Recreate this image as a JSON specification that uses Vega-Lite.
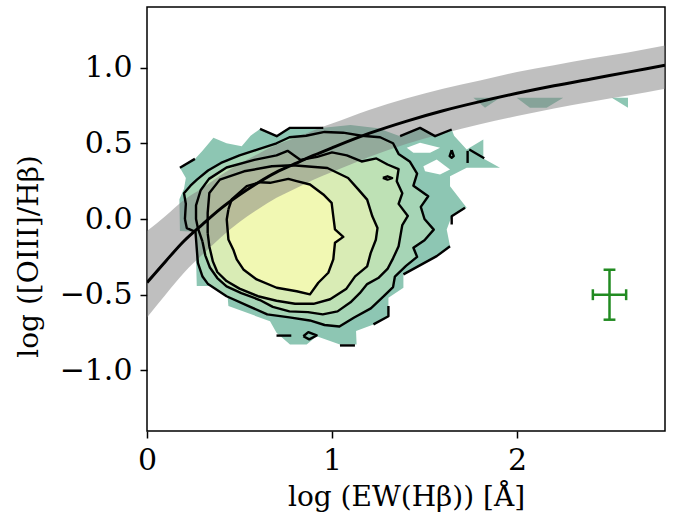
{
  "$schema": "https://vega.github.io/schema/vega-lite/v6.json",
  "width": 518,
  "height": 424,
  "autosize": {"type": "none"},
  "padding": {"left": 147, "top": 7, "right": 21, "bottom": 89},
  "background": "white",
  "config": {
    "view": {"stroke": "black", "strokeWidth": 1.5},
    "axis": {"grid": false, "domain": false, "tickColor": "black", "tickWidth": 1.5, "tickSize": 7, "labelColor": "black", "labelFont": "DejaVu Serif", "labelFontSize": 30, "titleColor": "black", "titleFontWeight": "normal", "labelFlush": false, "labelOverlap": false}
  },
  "datasets": {
    "poly": [
      {"g":"T","i":0,"x":0.178,"y":-0.08},{"g":"T","i":1,"x":0.175,"y":0.13},{"g":"T","i":2,"x":0.2,"y":0.2},{"g":"T","i":3,"x":0.21,"y":0.27},{"g":"T","i":4,"x":0.178,"y":0.338},{"g":"T","i":5,"x":0.215,"y":0.37},{"g":"T","i":6,"x":0.259,"y":0.397},{"g":"T","i":7,"x":0.3,"y":0.45},{"g":"T","i":8,"x":0.359,"y":0.536},{"g":"T","i":9,"x":0.43,"y":0.5},{"g":"T","i":10,"x":0.512,"y":0.48},{"g":"T","i":11,"x":0.56,"y":0.55},{"g":"T","i":12,"x":0.611,"y":0.595},{"g":"T","i":13,"x":0.701,"y":0.547},{"g":"T","i":14,"x":0.773,"y":0.602},{"g":"T","i":15,"x":0.953,"y":0.602},{"g":"T","i":16,"x":1.1,"y":0.62},{"g":"T","i":17,"x":1.25,"y":0.6},{"g":"T","i":18,"x":1.368,"y":0.547},{"g":"T","i":19,"x":1.476,"y":0.602},{"g":"T","i":20,"x":1.557,"y":0.547},{"g":"T","i":21,"x":1.647,"y":0.591},{"g":"T","i":22,"x":1.66,"y":0.55},{"g":"T","i":23,"x":1.728,"y":0.459},{"g":"T","i":24,"x":1.818,"y":0.525},{"g":"T","i":25,"x":1.818,"y":0.4},{"g":"T","i":26,"x":1.908,"y":0.338},{"g":"T","i":27,"x":1.728,"y":0.338},{"g":"T","i":28,"x":1.638,"y":0.283},{"g":"T","i":29,"x":1.638,"y":0.217},{"g":"T","i":30,"x":1.728,"y":0.074},{"g":"T","i":31,"x":1.647,"y":0.018},{"g":"T","i":32,"x":1.62,"y":-0.07},{"g":"T","i":33,"x":1.638,"y":-0.18},{"g":"T","i":34,"x":1.566,"y":-0.245},{"g":"T","i":35,"x":1.386,"y":-0.366},{"g":"T","i":36,"x":1.386,"y":-0.454},{"g":"T","i":37,"x":1.305,"y":-0.52},{"g":"T","i":38,"x":1.305,"y":-0.642},{"g":"T","i":39,"x":1.224,"y":-0.696},{"g":"T","i":40,"x":1.13,"y":-0.74},{"g":"T","i":41,"x":1.133,"y":-0.828},{"g":"T","i":42,"x":1.043,"y":-0.828},{"g":"T","i":43,"x":0.917,"y":-0.774},{"g":"T","i":44,"x":0.863,"y":-0.828},{"g":"T","i":45,"x":0.773,"y":-0.828},{"g":"T","i":46,"x":0.7,"y":-0.751},{"g":"T","i":47,"x":0.665,"y":-0.675},{"g":"T","i":48,"x":0.44,"y":-0.575},{"g":"T","i":49,"x":0.431,"y":-0.443},{"g":"T","i":50,"x":0.269,"y":-0.443},{"g":"T","i":51,"x":0.265,"y":-0.25},{"g":"T","i":52,"x":0.26,"y":-0.085},{"g":"T","i":53,"x":0.178,"y":-0.08},
      {"g":"T1","i":0,"x":1.764,"y":0.8},{"g":"T1","i":1,"x":1.908,"y":0.8},{"g":"T1","i":2,"x":1.827,"y":0.734},{"g":"T1","i":3,"x":1.764,"y":0.8},
      {"g":"T2","i":0,"x":1.998,"y":0.8},{"g":"T2","i":1,"x":2.25,"y":0.8},{"g":"T2","i":2,"x":2.16,"y":0.734},{"g":"T2","i":3,"x":2.07,"y":0.734},{"g":"T2","i":4,"x":1.998,"y":0.8},
      {"g":"T3","i":0,"x":2.512,"y":0.8},{"g":"T3","i":1,"x":2.6,"y":0.8},{"g":"T3","i":2,"x":2.6,"y":0.734},{"g":"T3","i":3,"x":2.512,"y":0.8},
      {"g":"H1","i":0,"x":1.404,"y":0.47},{"g":"H1","i":1,"x":1.476,"y":0.503},{"g":"H1","i":2,"x":1.584,"y":0.47},{"g":"H1","i":3,"x":1.53,"y":0.437},{"g":"H1","i":4,"x":1.44,"y":0.437},{"g":"H1","i":5,"x":1.404,"y":0.47},
      {"g":"H2","i":0,"x":1.494,"y":0.349},{"g":"H2","i":1,"x":1.566,"y":0.393},{"g":"H2","i":2,"x":1.638,"y":0.327},{"g":"H2","i":3,"x":1.584,"y":0.294},{"g":"H2","i":4,"x":1.503,"y":0.316},{"g":"H2","i":5,"x":1.494,"y":0.349},
      {"g":"L1","i":0,"x":0.205,"y":0.0},{"g":"L1","i":1,"x":0.21,"y":0.1},{"g":"L1","i":2,"x":0.2,"y":0.17},{"g":"L1","i":3,"x":0.235,"y":0.22},{"g":"L1","i":4,"x":0.27,"y":0.26},{"g":"L1","i":5,"x":0.33,"y":0.32},{"g":"L1","i":6,"x":0.4,"y":0.37},{"g":"L1","i":7,"x":0.5,"y":0.42},{"g":"L1","i":8,"x":0.6,"y":0.46},{"g":"L1","i":9,"x":0.7,"y":0.5},{"g":"L1","i":10,"x":0.77,"y":0.54},{"g":"L1","i":11,"x":0.86,"y":0.55},{"g":"L1","i":12,"x":0.96,"y":0.575},{"g":"L1","i":13,"x":1.06,"y":0.57},{"g":"L1","i":14,"x":1.16,"y":0.55},{"g":"L1","i":15,"x":1.26,"y":0.54},{"g":"L1","i":16,"x":1.33,"y":0.5},{"g":"L1","i":17,"x":1.36,"y":0.43},{"g":"L1","i":18,"x":1.42,"y":0.38},{"g":"L1","i":19,"x":1.46,"y":0.3},{"g":"L1","i":20,"x":1.44,"y":0.22},{"g":"L1","i":21,"x":1.52,"y":0.15},{"g":"L1","i":22,"x":1.48,"y":0.08},{"g":"L1","i":23,"x":1.5,"y":0.0},{"g":"L1","i":24,"x":1.55,"y":-0.07},{"g":"L1","i":25,"x":1.5,"y":-0.14},{"g":"L1","i":26,"x":1.44,"y":-0.19},{"g":"L1","i":27,"x":1.46,"y":-0.25},{"g":"L1","i":28,"x":1.4,"y":-0.31},{"g":"L1","i":29,"x":1.34,"y":-0.38},{"g":"L1","i":30,"x":1.33,"y":-0.45},{"g":"L1","i":31,"x":1.28,"y":-0.51},{"g":"L1","i":32,"x":1.21,"y":-0.59},{"g":"L1","i":33,"x":1.12,"y":-0.65},{"g":"L1","i":34,"x":1.04,"y":-0.71},{"g":"L1","i":35,"x":0.96,"y":-0.7},{"g":"L1","i":36,"x":0.88,"y":-0.67},{"g":"L1","i":37,"x":0.77,"y":-0.65},{"g":"L1","i":38,"x":0.65,"y":-0.63},{"g":"L1","i":39,"x":0.54,"y":-0.57},{"g":"L1","i":40,"x":0.43,"y":-0.51},{"g":"L1","i":41,"x":0.33,"y":-0.43},{"g":"L1","i":42,"x":0.3,"y":-0.38},{"g":"L1","i":43,"x":0.275,"y":-0.29},{"g":"L1","i":44,"x":0.268,"y":-0.18},{"g":"L1","i":45,"x":0.262,"y":-0.085},{"g":"L1","i":46,"x":0.215,"y":-0.06},{"g":"L1","i":47,"x":0.205,"y":0.0},
      {"g":"L2","i":0,"x":0.3,"y":-0.15},{"g":"L2","i":1,"x":0.275,"y":-0.06},{"g":"L2","i":2,"x":0.265,"y":0.0},{"g":"L2","i":3,"x":0.265,"y":0.09},{"g":"L2","i":4,"x":0.29,"y":0.19},{"g":"L2","i":5,"x":0.335,"y":0.265},{"g":"L2","i":6,"x":0.43,"y":0.34},{"g":"L2","i":7,"x":0.58,"y":0.39},{"g":"L2","i":8,"x":0.7,"y":0.42},{"g":"L2","i":9,"x":0.76,"y":0.45},{"g":"L2","i":10,"x":0.83,"y":0.39},{"g":"L2","i":11,"x":0.92,"y":0.41},{"g":"L2","i":12,"x":1.0,"y":0.44},{"g":"L2","i":13,"x":1.08,"y":0.42},{"g":"L2","i":14,"x":1.16,"y":0.38},{"g":"L2","i":15,"x":1.24,"y":0.4},{"g":"L2","i":16,"x":1.3,"y":0.36},{"g":"L2","i":17,"x":1.36,"y":0.33},{"g":"L2","i":18,"x":1.35,"y":0.25},{"g":"L2","i":19,"x":1.38,"y":0.17},{"g":"L2","i":20,"x":1.36,"y":0.1},{"g":"L2","i":21,"x":1.41,"y":0.02},{"g":"L2","i":22,"x":1.38,"y":-0.04},{"g":"L2","i":23,"x":1.37,"y":-0.11},{"g":"L2","i":24,"x":1.36,"y":-0.18},{"g":"L2","i":25,"x":1.33,"y":-0.26},{"g":"L2","i":26,"x":1.3,"y":-0.33},{"g":"L2","i":27,"x":1.25,"y":-0.39},{"g":"L2","i":28,"x":1.19,"y":-0.43},{"g":"L2","i":29,"x":1.15,"y":-0.49},{"g":"L2","i":30,"x":1.1,"y":-0.55},{"g":"L2","i":31,"x":1.03,"y":-0.61},{"g":"L2","i":32,"x":0.95,"y":-0.63},{"g":"L2","i":33,"x":0.87,"y":-0.615},{"g":"L2","i":34,"x":0.77,"y":-0.61},{"g":"L2","i":35,"x":0.68,"y":-0.58},{"g":"L2","i":36,"x":0.61,"y":-0.535},{"g":"L2","i":37,"x":0.51,"y":-0.49},{"g":"L2","i":38,"x":0.43,"y":-0.445},{"g":"L2","i":39,"x":0.38,"y":-0.39},{"g":"L2","i":40,"x":0.34,"y":-0.32},{"g":"L2","i":41,"x":0.315,"y":-0.24},{"g":"L2","i":42,"x":0.3,"y":-0.15},
      {"g":"L3","i":0,"x":0.328,"y":-0.093},{"g":"L3","i":1,"x":0.328,"y":0.04},{"g":"L3","i":2,"x":0.337,"y":0.172},{"g":"L3","i":3,"x":0.394,"y":0.26},{"g":"L3","i":4,"x":0.525,"y":0.315},{"g":"L3","i":5,"x":0.675,"y":0.348},{"g":"L3","i":6,"x":0.787,"y":0.355},{"g":"L3","i":7,"x":0.975,"y":0.337},{"g":"L3","i":8,"x":1.087,"y":0.271},{"g":"L3","i":9,"x":1.143,"y":0.194},{"g":"L3","i":10,"x":1.19,"y":0.128},{"g":"L3","i":11,"x":1.218,"y":0.018},{"g":"L3","i":12,"x":1.246,"y":-0.059},{"g":"L3","i":13,"x":1.237,"y":-0.137},{"g":"L3","i":14,"x":1.209,"y":-0.225},{"g":"L3","i":15,"x":1.19,"y":-0.313},{"g":"L3","i":16,"x":1.125,"y":-0.379},{"g":"L3","i":17,"x":1.078,"y":-0.46},{"g":"L3","i":18,"x":0.99,"y":-0.53},{"g":"L3","i":19,"x":0.9,"y":-0.56},{"g":"L3","i":20,"x":0.8,"y":-0.56},{"g":"L3","i":21,"x":0.7,"y":-0.54},{"g":"L3","i":22,"x":0.6,"y":-0.51},{"g":"L3","i":23,"x":0.5,"y":-0.46},{"g":"L3","i":24,"x":0.43,"y":-0.41},{"g":"L3","i":25,"x":0.38,"y":-0.35},{"g":"L3","i":26,"x":0.356,"y":-0.28},{"g":"L3","i":27,"x":0.337,"y":-0.181},{"g":"L3","i":28,"x":0.328,"y":-0.093},
      {"g":"L4","i":0,"x":0.44,"y":0.063},{"g":"L4","i":1,"x":0.458,"y":0.129},{"g":"L4","i":2,"x":0.539,"y":0.217},{"g":"L4","i":3,"x":0.611,"y":0.243},{"g":"L4","i":4,"x":0.665,"y":0.239},{"g":"L4","i":5,"x":0.764,"y":0.265},{"g":"L4","i":6,"x":0.809,"y":0.25},{"g":"L4","i":7,"x":0.881,"y":0.228},{"g":"L4","i":8,"x":0.953,"y":0.162},{"g":"L4","i":9,"x":0.998,"y":0.107},{"g":"L4","i":10,"x":1.007,"y":0.018},{"g":"L4","i":11,"x":1.016,"y":-0.069},{"g":"L4","i":12,"x":1.061,"y":-0.118},{"g":"L4","i":13,"x":1.016,"y":-0.157},{"g":"L4","i":14,"x":1.007,"y":-0.267},{"g":"L4","i":15,"x":0.98,"y":-0.355},{"g":"L4","i":16,"x":0.926,"y":-0.421},{"g":"L4","i":17,"x":0.881,"y":-0.498},{"g":"L4","i":18,"x":0.809,"y":-0.477},{"g":"L4","i":19,"x":0.701,"y":-0.454},{"g":"L4","i":20,"x":0.593,"y":-0.399},{"g":"L4","i":21,"x":0.521,"y":-0.333},{"g":"L4","i":22,"x":0.485,"y":-0.267},{"g":"L4","i":23,"x":0.466,"y":-0.201},{"g":"L4","i":24,"x":0.44,"y":-0.135},{"g":"L4","i":25,"x":0.431,"y":-0.003},{"g":"L4","i":26,"x":0.44,"y":0.063},
      {"g":"S1","i":0,"x":1.275,"y":0.272},{"g":"S1","i":1,"x":1.3,"y":0.282},{"g":"S1","i":2,"x":1.325,"y":0.27},{"g":"S1","i":3,"x":1.3,"y":0.26},{"g":"S1","i":4,"x":1.275,"y":0.272},
      {"g":"S2","i":0,"x":1.647,"y":0.455},{"g":"S2","i":1,"x":1.658,"y":0.415},{"g":"S2","i":2,"x":1.647,"y":0.405},{"g":"S2","i":3,"x":1.636,"y":0.415},{"g":"S2","i":4,"x":1.647,"y":0.455},
      {"g":"S3","i":0,"x":0.845,"y":-0.774},{"g":"S3","i":1,"x":0.872,"y":-0.747},{"g":"S3","i":2,"x":0.917,"y":-0.769},{"g":"S3","i":3,"x":0.877,"y":-0.795},{"g":"S3","i":4,"x":0.845,"y":-0.774},
      {"g":"F1","i":0,"x":0.178,"y":0.338},{"g":"F1","i":1,"x":0.259,"y":0.397},
      {"g":"F2","i":0,"x":0.611,"y":0.595},{"g":"F2","i":1,"x":0.701,"y":0.547},{"g":"F2","i":2,"x":0.773,"y":0.602},{"g":"F2","i":3,"x":0.953,"y":0.602},
      {"g":"F3","i":0,"x":1.368,"y":0.547},{"g":"F3","i":1,"x":1.476,"y":0.602},{"g":"F3","i":2,"x":1.557,"y":0.547},{"g":"F3","i":3,"x":1.647,"y":0.591},
      {"g":"F4","i":0,"x":1.742,"y":0.459},{"g":"F4","i":1,"x":1.823,"y":0.401},
      {"g":"F5","i":0,"x":1.733,"y":0.45},{"g":"F5","i":1,"x":1.733,"y":0.37},
      {"g":"F6","i":0,"x":1.647,"y":-0.036},{"g":"F6","i":1,"x":1.647,"y":0.018},{"g":"F6","i":2,"x":1.719,"y":0.074},
      {"g":"F7","i":0,"x":1.305,"y":-0.575},{"g":"F7","i":1,"x":1.305,"y":-0.642},{"g":"F7","i":2,"x":1.224,"y":-0.696},
      {"g":"F8","i":0,"x":1.043,"y":-0.835},{"g":"F8","i":1,"x":1.124,"y":-0.835},
      {"g":"F9","i":0,"x":0.7,"y":-0.77},{"g":"F9","i":1,"x":0.78,"y":-0.77},
      {"g":"F10","i":0,"x":1.386,"y":-0.366},{"g":"F10","i":1,"x":1.566,"y":-0.245},{"g":"F10","i":2,"x":1.638,"y":-0.18}
    ],
    "band": [
      {"x":0.0,"c":-0.42,"lo":-0.65,"up":-0.08},
      {"x":0.1,"c":-0.28,"lo":-0.5,"up":0.02},
      {"x":0.2,"c":-0.145,"lo":-0.355,"up":0.125},
      {"x":0.3,"c":-0.035,"lo":-0.235,"up":0.205},
      {"x":0.4,"c":0.07,"lo":-0.12,"up":0.29},
      {"x":0.5,"c":0.16,"lo":-0.02,"up":0.365},
      {"x":0.6,"c":0.24,"lo":0.065,"up":0.43},
      {"x":0.7,"c":0.31,"lo":0.14,"up":0.49},
      {"x":0.8,"c":0.365,"lo":0.2,"up":0.535},
      {"x":0.9,"c":0.42,"lo":0.26,"up":0.585},
      {"x":1.0,"c":0.47,"lo":0.31,"up":0.63},
      {"x":1.2,"c":0.565,"lo":0.41,"up":0.72},
      {"x":1.4,"c":0.645,"lo":0.495,"up":0.795},
      {"x":1.6,"c":0.715,"lo":0.565,"up":0.86},
      {"x":1.8,"c":0.775,"lo":0.625,"up":0.915},
      {"x":2.0,"c":0.83,"lo":0.68,"up":0.97},
      {"x":2.2,"c":0.88,"lo":0.73,"up":1.015},
      {"x":2.4,"c":0.925,"lo":0.775,"up":1.06},
      {"x":2.6,"c":0.97,"lo":0.815,"up":1.1},
      {"x":2.8,"c":1.015,"lo":0.86,"up":1.145}
    ],
    "err": [
      {"x1":2.41,"x2":2.59,"y1":-0.5,"y2":-0.5},
      {"x1":2.41,"x2":2.41,"y1":-0.536,"y2":-0.464},
      {"x1":2.59,"x2":2.59,"y1":-0.536,"y2":-0.464},
      {"x1":2.5,"x2":2.5,"y1":-0.665,"y2":-0.335},
      {"x1":2.468,"x2":2.532,"y1":-0.665,"y2":-0.665},
      {"x1":2.468,"x2":2.532,"y1":-0.335,"y2":-0.335}
    ]
  },
  "layer": [
    {
      "data": {"name": "poly"},
      "transform": [{"filter": {"field": "g", "oneOf": ["T", "T1", "T2", "T3"]}}],
      "mark": {"type": "line", "fill": "#8DC6B3", "strokeWidth": 0, "clip": true},
      "encoding": {
        "x": {"field": "x", "type": "quantitative", "scale": {"domain": [0, 2.8], "nice": false, "zero": false},
              "axis": {"values": [0, 1, 2], "format": "d", "labelPadding": 7, "title": "log (EW(Hβ)) [Å]", "titleFont": "DejaVu Serif", "titleFontSize": 28, "titleX": 259, "titleY": 74, "titleBaseline": "alphabetic", "titleAlign": "center"}},
        "y": {"field": "y", "type": "quantitative", "scale": {"domain": [-1.4, 1.4], "nice": false, "zero": false},
              "axis": {"values": [-1, -0.5, 0, 0.5, 1], "format": ".1f", "labelPadding": 8, "title": "log ([OIII]/Hβ)", "titleFont": "DejaVu Serif", "titleFontSize": 28, "titleX": -110, "titleY": 249, "titleAngle": 270, "titleBaseline": "alphabetic", "titleAlign": "center"}},
        "detail": {"field": "g"},
        "order": {"field": "i", "type": "quantitative"}
      }
    },
    {
      "data": {"name": "poly"},
      "transform": [{"filter": {"field": "g", "oneOf": ["H1", "H2"]}}],
      "mark": {"type": "line", "fill": "white", "strokeWidth": 0},
      "encoding": {"x": {"field": "x", "type": "quantitative"}, "y": {"field": "y", "type": "quantitative"}, "detail": {"field": "g"}, "order": {"field": "i", "type": "quantitative"}}
    },
    {
      "data": {"name": "poly"},
      "transform": [{"filter": {"field": "g", "equal": "L1"}}],
      "mark": {"type": "line", "fill": "#A6D5B6", "strokeWidth": 0},
      "encoding": {"x": {"field": "x", "type": "quantitative"}, "y": {"field": "y", "type": "quantitative"}, "order": {"field": "i", "type": "quantitative"}}
    },
    {
      "data": {"name": "poly"},
      "transform": [{"filter": {"field": "g", "equal": "L2"}}],
      "mark": {"type": "line", "fill": "#BEE1B5", "strokeWidth": 0},
      "encoding": {"x": {"field": "x", "type": "quantitative"}, "y": {"field": "y", "type": "quantitative"}, "order": {"field": "i", "type": "quantitative"}}
    },
    {
      "data": {"name": "poly"},
      "transform": [{"filter": {"field": "g", "equal": "L3"}}],
      "mark": {"type": "line", "fill": "#D9ECB5", "strokeWidth": 0},
      "encoding": {"x": {"field": "x", "type": "quantitative"}, "y": {"field": "y", "type": "quantitative"}, "order": {"field": "i", "type": "quantitative"}}
    },
    {
      "data": {"name": "poly"},
      "transform": [{"filter": {"field": "g", "equal": "L4"}}],
      "mark": {"type": "line", "fill": "#F1F8B3", "strokeWidth": 0},
      "encoding": {"x": {"field": "x", "type": "quantitative"}, "y": {"field": "y", "type": "quantitative"}, "order": {"field": "i", "type": "quantitative"}}
    },
    {
      "data": {"name": "band"},
      "mark": {"type": "area", "color": "#808080", "opacity": 0.5, "interpolate": "monotone", "clip": true},
      "encoding": {"x": {"field": "x", "type": "quantitative"}, "y": {"field": "lo", "type": "quantitative"}, "y2": {"field": "up"}}
    },
    {
      "data": {"name": "poly"},
      "transform": [{"filter": {"field": "g", "oneOf": ["L1", "L2", "L3", "L4", "S1", "S2", "S3", "F1", "F2", "F3", "F4", "F5", "F6", "F7", "F8", "F9", "F10"]}}],
      "mark": {"type": "line", "color": "black", "strokeWidth": 2.4, "strokeJoin": "round"},
      "encoding": {"x": {"field": "x", "type": "quantitative"}, "y": {"field": "y", "type": "quantitative"}, "detail": {"field": "g"}, "order": {"field": "i", "type": "quantitative"}}
    },
    {
      "data": {"name": "band"},
      "mark": {"type": "line", "color": "black", "strokeWidth": 3, "interpolate": "monotone", "clip": true},
      "encoding": {"x": {"field": "x", "type": "quantitative"}, "y": {"field": "c", "type": "quantitative"}}
    },
    {
      "data": {"name": "err"},
      "mark": {"type": "rule", "color": "#228B22", "strokeWidth": 2.5},
      "encoding": {"x": {"field": "x1", "type": "quantitative"}, "x2": {"field": "x2"}, "y": {"field": "y1", "type": "quantitative"}, "y2": {"field": "y2"}}
    }
  ]
}
